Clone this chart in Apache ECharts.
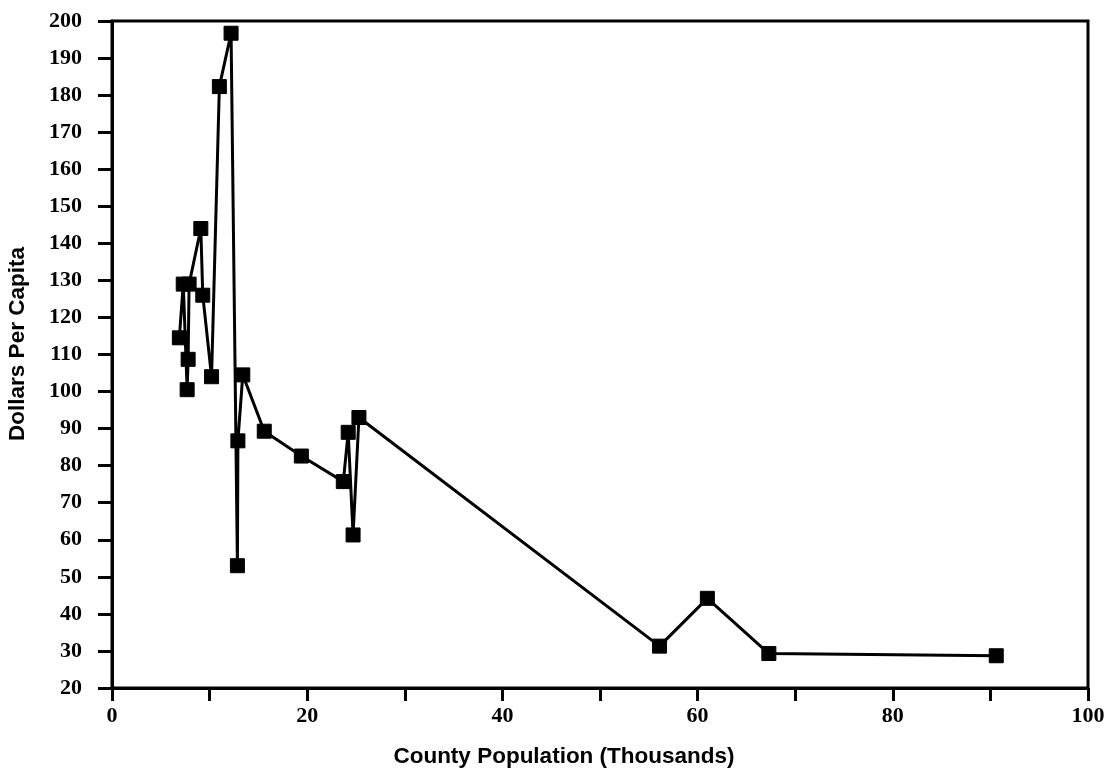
<!DOCTYPE html>
<html>
<head>
<meta charset="utf-8">
<script src="https://cdn.jsdelivr.net/npm/echarts@6/dist/echarts.min.js"></script>
<style>
  html, body { margin: 0; padding: 0; background: #fff; }
  #chart { width: 1111px; height: 771px; }
</style>
</head>
<body>
<div id="chart"></div>
<script>
// County population (thousands) and library spending (dollars per capita)
const population = [6.9, 7.3, 7.7, 7.8, 7.9, 9.1, 9.3, 10.2, 11.0, 12.2, 12.85, 12.9, 13.4, 15.6, 19.4, 23.7, 24.2, 24.7, 25.3, 56.1, 61.0, 67.3, 90.6];
const perCapita = [114.5, 129, 100.5, 108.7, 129, 144, 126, 104, 182.3, 196.7, 53, 86.7, 104.5, 89.3, 82.6, 75.7, 89, 61.3, 93, 31.3, 44.2, 29.3, 28.7];

const xTitle = 'County Population (Thousands)';
const yTitle = 'Dollars Per Capita';

const points = population.map((p, i) => [p, perCapita[i]]);

const ink = '#000';
const tickFont = { color: ink, fontFamily: '"Liberation Serif", "Times New Roman", serif', fontWeight: 'bold', fontSize: 22 };
const titleFont = { color: ink, fontFamily: '"Liberation Sans", Arial, sans-serif', fontWeight: 'bold', fontSize: 22.5 };

const chart = echarts.init(document.getElementById('chart'), null, { renderer: 'canvas' });
chart.setOption({
  backgroundColor: '#fff',
  animation: false,
  grid: {
    left: 112, right: 23, top: 21, bottom: 83,
    containLabel: false, outerBoundsMode: 'none',
    show: true, borderColor: ink, borderWidth: 3, backgroundColor: 'transparent'
  },
  xAxis: {
    type: 'value', min: 0, max: 100, interval: 10,
    name: xTitle, nameLocation: 'middle', nameGap: 57,
    nameTextStyle: Object.assign({ padding: [0, 72, 0, 0] }, titleFont),
    axisLine: { show: true, onZero: false, lineStyle: { color: ink, width: 3 } },
    axisTick: { show: true, length: 13, lineStyle: { color: ink, width: 3 } },
    axisLabel: Object.assign({ margin: 17, formatter: v => (v % 20 === 0 ? String(v) : '') }, tickFont),
    splitLine: { show: false }
  },
  yAxis: {
    type: 'value', min: 20, max: 200, interval: 10,
    name: yTitle, nameLocation: 'middle', nameGap: 83,
    nameTextStyle: Object.assign({ padding: [0, 0, 0, 21] }, titleFont),
    axisLine: { show: true, onZero: false, lineStyle: { color: ink, width: 3 } },
    axisTick: { show: true, length: 14, lineStyle: { color: ink, width: 3 } },
    axisLabel: Object.assign({ margin: 30 }, tickFont),
    splitLine: { show: false }
  },
  series: [{
    type: 'line',
    data: points,
    symbol: 'rect',
    symbolSize: 14,
    showAllSymbol: true,
    lineStyle: { color: ink, width: 3 },
    itemStyle: { color: ink, borderColor: ink },
    z: 3
  }]
});
</script>
</body>
</html>
